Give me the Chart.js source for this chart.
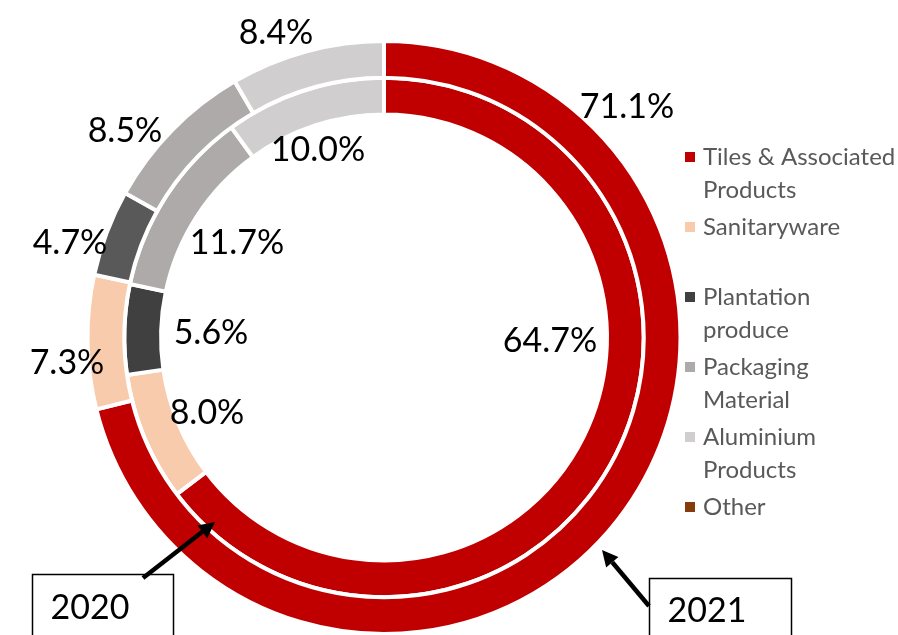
<!DOCTYPE html>
<html>
<head>
<meta charset="utf-8">
<script src="https://cdn.jsdelivr.net/npm/chart.js@4.4.1/dist/chart.umd.min.js"></script>
<style>
  html, body { margin: 0; padding: 0; background: #ffffff; }
  #wrap { width: 898px; height: 635px; position: relative; overflow: hidden; }
</style>
</head>
<body>
<div id="wrap"><canvas id="c" width="898" height="635"></canvas></div>
<script>
// ---- data ----
const categories = ["Tiles & Associated Products", "Sanitaryware", "Plantation produce", "Packaging Material", "Aluminium Products", "Other"];
const values2021 = [71.1, 7.3, 4.7, 8.5, 8.4, 0];
const values2020 = [64.7, 8.0, 5.6, 11.7, 10.0, 0];
const seriesNames = ["2021", "2020"];

// ---- styles ----
const colors2021 = ["#C00000", "#F8CBAD", "#595959", "#AEAAAA", "#D0CECE", "#843C0C"];
const colors2020 = ["#C00000", "#F8CBAD", "#404040", "#AEAAAA", "#D0CECE", "#843C0C"];
const legendColors = ["#C00000", "#F8CBAD", "#404040", "#AEAAAA", "#D0CECE", "#843C0C"];
const legendLines = [["Tiles & Associated", "Products"], ["Sanitaryware"], ["Plantation", "produce"], ["Packaging", "Material"], ["Aluminium", "Products"], ["Other"]];
const legendTops = [157, 227, 297, 367, 437, 507];
// label anchors relative to chart centre (layout only)
const labelOffsets2021 = [[243, -230.5], [-317, 25.5], [-314, -94.5], [-259, -206.5], [-108, -304.5], null];
const labelOffsets2020 = [[166, 3.5], [-177, 75.5], [-173, -4.5], [-147, -94.5], [-66, -187.5], null];

const FONT = "Lato, 'Open Sans', 'Liberation Sans', sans-serif";

function arrow(ctx, x1, y1, x2, y2) {
  const ang = Math.atan2(y2 - y1, x2 - x1);
  const head = 16, hw = 8;
  const bx = x2 - head * Math.cos(ang), by = y2 - head * Math.sin(ang);
  ctx.save();
  ctx.strokeStyle = "#000"; ctx.fillStyle = "#000"; ctx.lineWidth = 4.5; ctx.lineCap = "butt";
  ctx.beginPath(); ctx.moveTo(x1, y1); ctx.lineTo(bx, by); ctx.stroke();
  ctx.beginPath();
  ctx.moveTo(x2, y2);
  ctx.lineTo(bx + hw * Math.sin(ang), by - hw * Math.cos(ang));
  ctx.lineTo(bx - hw * Math.sin(ang), by + hw * Math.cos(ang));
  ctx.closePath(); ctx.fill();
  ctx.restore();
}

const overlay = {
  id: "overlay",
  afterDraw(chart) {
    const ctx = chart.ctx;
    const meta = chart.getDatasetMeta(0);
    const arc0 = meta.data[0];
    const cx = arc0.x, cy = arc0.y;
    ctx.save();
    // value labels
    ctx.font = "34px " + FONT;
    ctx.fillStyle = "#000";
    ctx.textAlign = "center";
    ctx.textBaseline = "middle";
    values2021.forEach((v, i) => {
      const o = labelOffsets2021[i];
      if (o && v > 0) ctx.fillText(v.toFixed(1) + "%", cx + o[0], cy + o[1]);
    });
    values2020.forEach((v, i) => {
      const o = labelOffsets2020[i];
      if (o && v > 0) ctx.fillText(v.toFixed(1) + "%", cx + o[0], cy + o[1]);
    });
    // legend
    ctx.textAlign = "left";
    ctx.font = "24px " + FONT;
    legendLines.forEach((lines, i) => {
      const y = legendTops[i];
      ctx.fillStyle = legendColors[i];
      ctx.fillRect(685, y - 5, 10, 10);
      ctx.fillStyle = "#595959";
      lines.forEach((t, k) => ctx.fillText(t, 703, y + k * 33));
    });
    // year boxes
    ctx.strokeStyle = "#000"; ctx.lineWidth = 1.5;
    ctx.strokeRect(32.5, 574.5, 141, 80);
    ctx.strokeRect(649.5, 578.5, 142, 80);
    ctx.font = "34px " + FONT;
    ctx.fillStyle = "#000";
    ctx.textAlign = "center";
    ctx.fillText(seriesNames[1], 90, 608);
    ctx.fillText(seriesNames[0], 707, 611);
    arrow(ctx, 143, 578, 215, 522);
    arrow(ctx, 649, 606, 602, 550);
    ctx.restore();
  }
};

new Chart(document.getElementById("c"), {
  type: "doughnut",
  data: {
    labels: categories,
    datasets: [
      { label: seriesNames[0], data: values2021, backgroundColor: colors2021, borderColor: "#ffffff", borderWidth: 4, borderJoinStyle: "miter" },
      { label: seriesNames[1], data: values2020, backgroundColor: colors2020, borderColor: "#ffffff", borderWidth: 4, borderJoinStyle: "miter" }
    ]
  },
  options: {
    responsive: false,
    animation: false,
    devicePixelRatio: 1,
    radius: 296.5,
    cutout: "75.2%",
    layout: { padding: { left: 0, right: 130, top: 40, bottom: 0 } },
    plugins: { legend: { display: false }, tooltip: { enabled: false } }
  },
  plugins: [overlay]
});
</script>
</body>
</html>
